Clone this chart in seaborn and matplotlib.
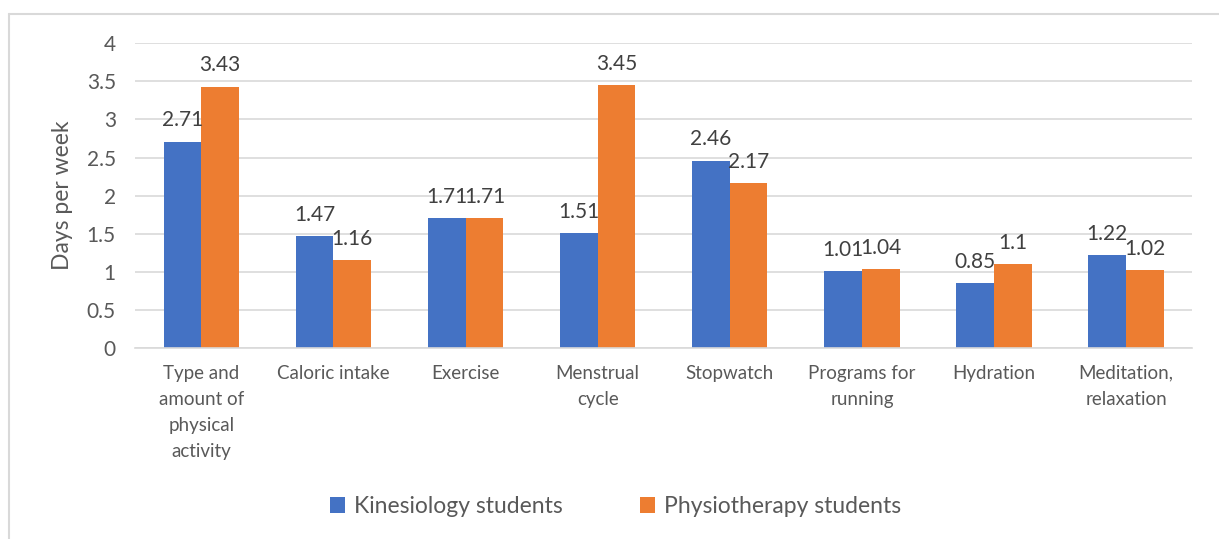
import matplotlib
matplotlib.use("Agg")
import matplotlib.pyplot as plt
from matplotlib.lines import Line2D
import pandas as pd
import seaborn as sns

# data
categories = [
    "Type and\namount of\nphysical\nactivity",
    "Caloric intake",
    "Exercise",
    "Menstrual\ncycle",
    "Stopwatch",
    "Programs for\nrunning",
    "Hydration",
    "Meditation,\nrelaxation",
]
kinesiology = [2.71, 1.47, 1.71, 1.51, 2.46, 1.01, 0.85, 1.22]
physiotherapy = [3.43, 1.16, 1.71, 3.45, 2.17, 1.04, 1.10, 1.02]
series_names = ["Kinesiology students", "Physiotherapy students"]
y_ticks = [0, 0.5, 1, 1.5, 2, 2.5, 3, 3.5, 4]

df = pd.DataFrame({
    "category": categories * 2,
    "group": [series_names[0]] * len(categories) + [series_names[1]] * len(categories),
    "value": kinesiology + physiotherapy,
})

sns.set_theme(style="white")
plt.rcParams["font.family"] = ["Lato", "DejaVu Sans"]

fig = plt.figure(figsize=(12.19, 5.39), dpi=100)
ax = fig.add_axes([0.111, 0.354, 0.867, 0.566])

palette = {series_names[0]: "#4472C4", series_names[1]: "#ED7D31"}
sns.barplot(data=df, x="category", y="value", hue="group", order=categories,
            hue_order=series_names, palette=palette, width=0.57, saturation=1,
            linewidth=0, ax=ax, legend=True)

for cont in ax.containers:
    labels = [f"{v:g}" for v in cont.datavalues]
    ax.bar_label(cont, labels=labels, padding=8, fontsize=15, color="#404040")

ax.set_ylim(0, 4)
ax.set_yticks(y_ticks)
ax.set_yticklabels([f"{t:g}" for t in y_ticks])
ax.set_xlim(-0.5, len(categories) - 0.5)
ax.yaxis.grid(True, color="#D9D9D9", linewidth=1.2)
ax.set_axisbelow(True)
for s in ["top", "right", "left"]:
    ax.spines[s].set_visible(False)
ax.spines["bottom"].set_color("#D9D9D9")
ax.spines["bottom"].set_linewidth(1.2)

ax.tick_params(axis="y", labelsize=15, labelcolor="#595959", length=0, pad=14)
ax.tick_params(axis="x", labelsize=13.5, labelcolor="#595959", length=0, pad=12)
for lbl in ax.get_xticklabels():
    lbl.set_linespacing(1.65)
    lbl.set_verticalalignment("top")
ax.set_xlabel("")
ax.set_ylabel("Days per week", fontsize=16.5, color="#595959", labelpad=10)

ax.legend_.remove()
handles, labels = ax.get_legend_handles_labels()
fig.legend(handles, labels, loc="center", bbox_to_anchor=(0.505, 0.06), ncol=2,
           frameon=False, fontsize=16.5, labelcolor="#595959",
           handlelength=0.65, handleheight=0.65, handletextpad=0.4,
           columnspacing=3.4)

# outer chart border (top and left edges visible in the reference)
fig.add_artist(Line2D([9 / 1219, 1.0], [1 - 14 / 539] * 2, transform=fig.transFigure,
                      color="#D9D9D9", linewidth=1.5))
fig.add_artist(Line2D([9 / 1219] * 2, [0.0, 1 - 14 / 539], transform=fig.transFigure,
                      color="#D9D9D9", linewidth=1.5))

fig.savefig("out.png", dpi=100, facecolor="white")
